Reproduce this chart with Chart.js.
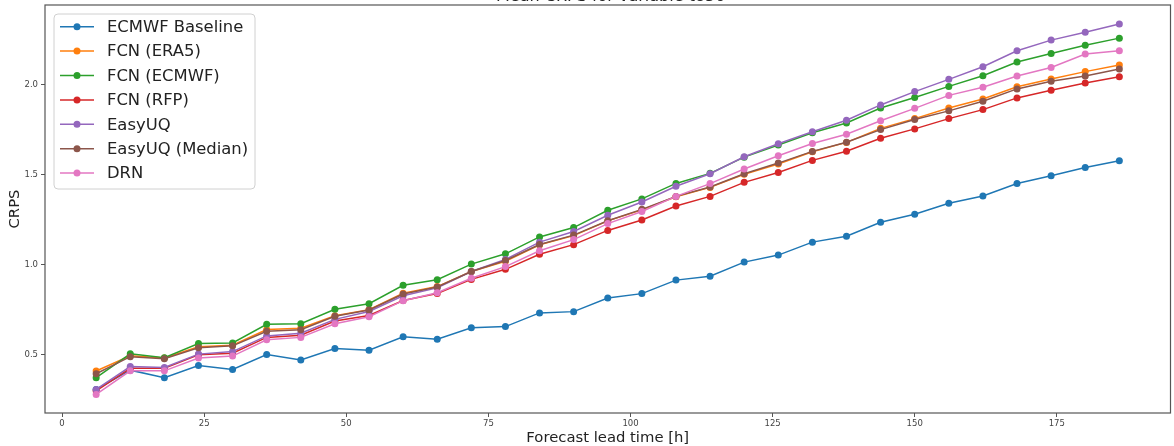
<!DOCTYPE html>
<html>
<head>
<meta charset="utf-8">
<script src="https://cdn.jsdelivr.net/npm/chart.js@4"></script>
<style>
  html, body { margin: 0; padding: 0; background: #fff; }
  #wrap { width: 1174px; height: 446px; position: relative; }
</style>
</head>
<body>
<div id="wrap"><canvas id="chart"></canvas></div>
<script>
const leadTimes = [6, 12, 18, 24, 30, 36, 42, 48, 54, 60, 66, 72, 78, 84, 90, 96,
  102, 108, 114, 120, 126, 132, 138, 144, 150, 156, 162, 168, 174, 180, 186];

const ecmwfBaseline = [0.308, 0.415, 0.373, 0.441, 0.419, 0.502, 0.472, 0.535, 0.526, 0.600, 0.587,
  0.650, 0.657, 0.733, 0.740, 0.816, 0.840, 0.915, 0.937, 1.015, 1.054, 1.126, 1.159, 1.236,
  1.281, 1.342, 1.382, 1.452, 1.495, 1.540, 1.578];
const fcnEra5 = [0.410, 0.495, 0.482, 0.545, 0.553, 0.641, 0.648, 0.717, 0.751, 0.842, 0.879,
  0.963, 1.020, 1.111, 1.162, 1.244, 1.305, 1.378, 1.430, 1.503, 1.560, 1.628, 1.680, 1.758,
  1.812, 1.871, 1.921, 1.989, 2.032, 2.073, 2.110];
const fcnEcmwf = [0.373, 0.506, 0.484, 0.563, 0.566, 0.670, 0.673, 0.753, 0.784, 0.886, 0.917,
  1.004, 1.061, 1.155, 1.207, 1.303, 1.366, 1.452, 1.508, 1.598, 1.665, 1.733, 1.788, 1.871,
  1.929, 1.991, 2.050, 2.126, 2.174, 2.220, 2.259];
const fcnRfp = [0.300, 0.425, 0.425, 0.500, 0.509, 0.597, 0.609, 0.688, 0.719, 0.802, 0.841,
  0.919, 0.975, 1.059, 1.112, 1.191, 1.249, 1.327, 1.380, 1.458, 1.513, 1.580, 1.631, 1.703,
  1.755, 1.812, 1.862, 1.927, 1.969, 2.010, 2.045];
const easyUQ = [0.308, 0.435, 0.430, 0.504, 0.518, 0.605, 0.620, 0.697, 0.741, 0.828, 0.872,
  0.963, 1.030, 1.126, 1.185, 1.275, 1.349, 1.436, 1.506, 1.600, 1.672, 1.739, 1.803, 1.888,
  1.962, 2.030, 2.100, 2.189, 2.248, 2.292, 2.338];
const easyUQMedian = [0.395, 0.490, 0.478, 0.539, 0.550, 0.631, 0.640, 0.714, 0.749, 0.838, 0.877,
  0.963, 1.024, 1.113, 1.165, 1.245, 1.308, 1.380, 1.432, 1.506, 1.565, 1.630, 1.681, 1.751,
  1.807, 1.855, 1.908, 1.977, 2.019, 2.049, 2.087];
const drn = [0.280, 0.411, 0.411, 0.482, 0.493, 0.584, 0.597, 0.673, 0.712, 0.801, 0.845,
  0.925, 0.990, 1.078, 1.140, 1.229, 1.296, 1.380, 1.451, 1.532, 1.606, 1.674, 1.725, 1.800,
  1.869, 1.941, 1.986, 2.049, 2.096, 2.171, 2.189];

const seriesNames = ["ECMWF Baseline", "FCN (ERA5)", "FCN (ECMWF)", "FCN (RFP)", "EasyUQ", "EasyUQ (Median)", "DRN"];
const seriesValues = [ecmwfBaseline, fcnEra5, fcnEcmwf, fcnRfp, easyUQ, easyUQMedian, drn];
const colors = ["#1f77b4", "#ff7f0e", "#2ca02c", "#d62728", "#9467bd", "#8c564b", "#e377c2"];

const xTicks = [0, 25, 50, 75, 100, 125, 150, 175];
const yTicks = [0.5, 1.0, 1.5, 2.0];

const titleText = "Mean CRPS for variable t850";
const xLabel = "Forecast lead time [h]";
const yLabel = "CRPS";

const spineColor = "#555";
const tickFont = { family: "DejaVu Sans", size: 8.5 };
const labelFont = { family: "DejaVu Sans", size: 14.8 };

const datasets = seriesNames.map((name, i) => ({
  label: name,
  data: leadTimes.map((t, j) => ({ x: t, y: seriesValues[i][j] })),
  borderColor: colors[i],
  backgroundColor: colors[i],
  borderWidth: 1.5,
  pointRadius: 3.5,
  pointHoverRadius: 3.5,
  pointBorderWidth: 0,
  tension: 0,
  order: seriesNames.length - i
}));

// frame, title (cut off at the top) and legend box
const extras = {
  id: "extras",
  afterDraw(chart) {
    const ctx = chart.ctx;
    const a = chart.chartArea;
    ctx.save();
    ctx.strokeStyle = spineColor;
    ctx.lineWidth = 1.2;
    ctx.strokeRect(a.left, a.top, a.right - a.left, a.bottom - a.top);

    ctx.fillStyle = "#222";
    ctx.font = "16px 'DejaVu Sans'";
    ctx.textAlign = "center";
    ctx.textBaseline = "alphabetic";
    ctx.fillText(titleText, (a.left + a.right) / 2 + 3, 1);

    // legend
    const lx = 54, ly = 14, lw = 201, lh = 175, r = 4;
    ctx.beginPath();
    ctx.moveTo(lx + r, ly);
    ctx.arcTo(lx + lw, ly, lx + lw, ly + lh, r);
    ctx.arcTo(lx + lw, ly + lh, lx, ly + lh, r);
    ctx.arcTo(lx, ly + lh, lx, ly, r);
    ctx.arcTo(lx, ly, lx + lw, ly, r);
    ctx.closePath();
    ctx.fillStyle = "rgba(255,255,255,0.8)";
    ctx.fill();
    ctx.strokeStyle = "#d0d0d0";
    ctx.lineWidth = 1;
    ctx.stroke();

    ctx.font = "16.4px 'DejaVu Sans'";
    ctx.textAlign = "left";
    ctx.textBaseline = "middle";
    chart.data.datasets.forEach((ds, i) => {
      const y = 26.7 + i * 24.4;
      ctx.strokeStyle = ds.borderColor;
      ctx.lineWidth = 1.5;
      ctx.beginPath();
      ctx.moveTo(60, y);
      ctx.lineTo(94, y);
      ctx.stroke();
      ctx.fillStyle = ds.borderColor;
      ctx.beginPath();
      ctx.arc(77, y, 3.5, 0, Math.PI * 2);
      ctx.fill();
      ctx.fillStyle = "#222";
      ctx.fillText(ds.label, 107, y + 1);
    });
    ctx.restore();
  }
};

new Chart(document.getElementById("chart"), {
  type: "line",
  data: { datasets },
  options: {
    responsive: true,
    maintainAspectRatio: false,
    animation: false,
    layout: { padding: { left: 0, right: 2, top: 5, bottom: 0 } },
    plugins: {
      legend: { display: false },
      tooltip: { enabled: false }
    },
    scales: {
      x: {
        type: "linear",
        min: -3,
        max: 195,
        afterBuildTicks: s => { s.ticks = xTicks.map(v => ({ value: v })); },
        afterFit: s => { s.height = 33; s.paddingLeft = 0; s.paddingRight = 0; },
        ticks: { font: tickFont, color: "#444", padding: 2, maxRotation: 0, autoSkip: false },
        grid: { drawOnChartArea: false, tickLength: 4, color: spineColor, tickWidth: 1 },
        border: { display: false },
        title: { display: true, text: xLabel, font: labelFont, color: "#222", padding: { top: 0, bottom: -1 } }
      },
      y: {
        type: "linear",
        min: 0.177,
        max: 2.443,
        afterBuildTicks: s => { s.ticks = yTicks.map(v => ({ value: v })); },
        afterFit: s => { s.width = 45; s.paddingTop = 0; s.paddingBottom = 0; },
        ticks: { font: tickFont, color: "#444", padding: 3, callback: v => v.toFixed(1) },
        grid: { drawOnChartArea: false, tickLength: 4, color: spineColor, tickWidth: 1 },
        border: { display: false },
        title: { display: true, text: yLabel, font: labelFont, color: "#222", padding: { top: 6, bottom: 0 } }
      }
    }
  },
  plugins: [extras]
});
</script>
</body>
</html>
